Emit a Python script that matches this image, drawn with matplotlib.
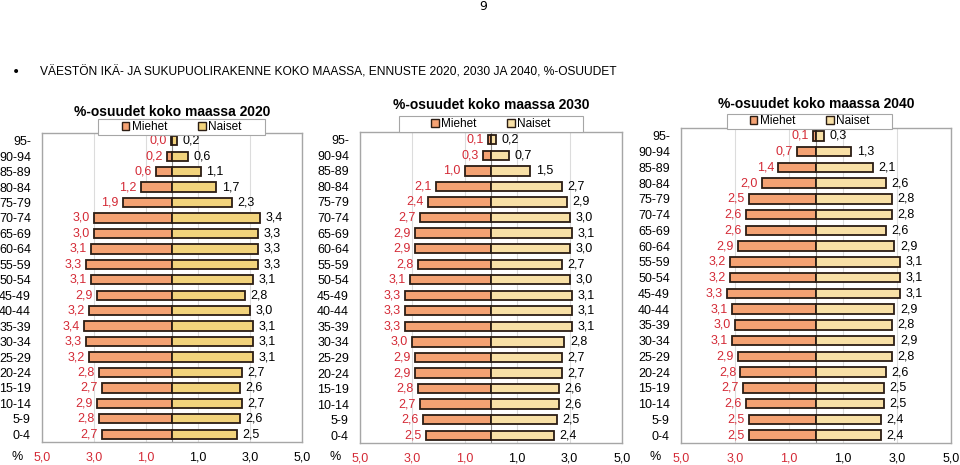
import matplotlib
matplotlib.use("Agg")
import matplotlib.pyplot as plt
from matplotlib.patches import Patch, Rectangle

ages = ["0-4", "5-9", "10-14", "15-19", "20-24", "25-29", "30-34", "35-39",
        "40-44", "45-49", "50-54", "55-59", "60-64", "65-69", "70-74",
        "75-79", "80-84", "85-89", "90-94", "95-"]

men_2020 = [2.7, 2.8, 2.9, 2.7, 2.8, 3.2, 3.3, 3.4, 3.2, 2.9, 3.1, 3.3, 3.1,
            3.0, 3.0, 1.9, 1.2, 0.6, 0.2, 0.04]
women_2020 = [2.5, 2.6, 2.7, 2.6, 2.7, 3.1, 3.1, 3.1, 3.0, 2.8, 3.1, 3.3, 3.3,
              3.3, 3.4, 2.3, 1.7, 1.1, 0.6, 0.2]
men_2030 = [2.5, 2.6, 2.7, 2.8, 2.9, 2.9, 3.0, 3.3, 3.3, 3.3, 3.1, 2.8, 2.9,
            2.9, 2.7, 2.4, 2.1, 1.0, 0.3, 0.1]
women_2030 = [2.4, 2.5, 2.6, 2.6, 2.7, 2.7, 2.8, 3.1, 3.1, 3.1, 3.0, 2.7, 3.0,
              3.1, 3.0, 2.9, 2.7, 1.5, 0.7, 0.2]
men_2040 = [2.5, 2.5, 2.6, 2.7, 2.8, 2.9, 3.1, 3.0, 3.1, 3.3, 3.2, 3.2, 2.9,
            2.6, 2.6, 2.5, 2.0, 1.4, 0.7, 0.1]
women_2040 = [2.4, 2.4, 2.5, 2.5, 2.6, 2.8, 2.9, 2.8, 2.9, 3.1, 3.1, 3.1, 2.9,
              2.6, 2.8, 2.8, 2.6, 2.1, 1.3, 0.3]

titles = ["%-osuudet koko maassa 2020", "%-osuudet koko maassa 2030",
          "%-osuudet koko maassa 2040"]
legend_labels = ["Miehet", "Naiset"]
xtick_values = [-5, -3, -1, 1, 3, 5]
xtick_labels = ["5,0", "3,0", "1,0", "1,0", "3,0", "5,0"]
header = "VÄESTÖN IKÄ- JA SUKUPUOLIRAKENNE KOKO MAASSA, ENNUSTE 2020, 2030 JA 2040, %-OSUUDET"
page_number = "9"

W, H = 960, 465
MEN_C = "#F4A273"
WOMEN_C = ["#F2D37C", "#F8E0A6", "#F8E0A6"]
RED = "#D42A36"
EDGE = "#2B1D14"
FRAME = "#A6A6A6"
GRID = "#DCDCDC"
FONT = "Liberation Sans"
FS = 9

plt.rcParams["font.family"] = [FONT, "DejaVu Sans"]

fig = plt.figure(figsize=(W / 100, H / 100), dpi=100)

def px_rect(l, t, r, b):
    return [l / W, 1 - b / H, (r - l) / W, (b - t) / H]

boxes = [(42, 133, 302, 442), (360, 132, 622, 443), (681, 128, 951, 443)]
title_y = [112, 105, 104]
legend_boxes = [(98, 119, 265, 135), (399, 116, 583, 132), (727, 114, 892, 129)]
pct_x = [12, 329, 649]

data = [(men_2020, women_2020), (men_2030, women_2030), (men_2040, women_2040)]
y = list(range(len(ages)))

for i, (box, (men, women)) in enumerate(zip(boxes, data)):
    ax = fig.add_axes(px_rect(*box))
    neg = [-m for m in men]
    bm = ax.barh(y, neg, height=0.6, color=MEN_C, edgecolor=EDGE, linewidth=1.3,
                 zorder=3, label=legend_labels[0])
    bw = ax.barh(y, women, height=0.6, color=WOMEN_C[i], edgecolor=EDGE,
                 linewidth=1.3, zorder=3, label=legend_labels[1])
    ax.bar_label(bm, labels=[f"{m:.1f}".replace(".", ",") for m in men],
                 padding=3, color=RED, fontsize=FS)
    ax.bar_label(bw, labels=[f"{w:.1f}".replace(".", ",") for w in women],
                 padding=4, color="black", fontsize=FS)
    ax.set_xlim(-5, 5)
    ax.set_ylim(-0.5, len(ages) - 0.5)
    ax.set_yticks(y)
    ax.set_yticklabels(ages, fontsize=FS)
    ax.set_xticks(xtick_values)
    ax.set_xticklabels(xtick_labels, fontsize=FS)
    for lbl, v in zip(ax.get_xticklabels(), xtick_values):
        lbl.set_color(RED if v < 0 else "black")
    ax.tick_params(axis="both", length=0)
    ax.tick_params(axis="y", pad=8)
    ax.tick_params(axis="x", pad=7)
    ax.grid(axis="x", color=GRID, linewidth=0.8, zorder=0)
    ax.axvline(0, color="#8C8C8C", linewidth=0.8, zorder=1)
    for s in ax.spines.values():
        s.set_color(FRAME)
        s.set_linewidth(1.0)
    cx = (box[0] + box[2]) / 2
    fig.text(cx / W, 1 - title_y[i] / H, titles[i], ha="center", va="center",
             fontsize=10, fontweight="bold")
    fig.text(pct_x[i] / W, 1 - 457 / H, "%", ha="left", va="center", fontsize=FS)
    lb = legend_boxes[i]
    fig.patches.append(Rectangle((lb[0] / W, 1 - lb[3] / H), (lb[2] - lb[0]) / W,
                                 (lb[3] - lb[1]) / H, transform=fig.transFigure,
                                 facecolor="white", edgecolor=FRAME, linewidth=0.8,
                                 zorder=5))
    lcx = (lb[0] + lb[2]) / 2
    lcy = (lb[1] + lb[3]) / 2
    leg = fig.legend(handles=[Patch(facecolor=MEN_C, edgecolor=EDGE, linewidth=1.0),
                              Patch(facecolor=WOMEN_C[i], edgecolor=EDGE, linewidth=1.0)],
                     labels=legend_labels, loc="center",
                     bbox_to_anchor=(lcx / W, 1 - lcy / H), bbox_transform=fig.transFigure,
                     ncol=2, fontsize=8.5, frameon=False,
                     handlelength=0.65, handleheight=0.65, handletextpad=0.2,
                     borderpad=0.0, borderaxespad=0.0, columnspacing=2.6)
    leg.set_zorder(6)

fig.text(483 / W, 1 - 7 / H, page_number, ha="center", va="center",
         fontsize=9, family="DejaVu Sans")
fig.text(12 / W, 1 - 72 / H, "•", ha="left", va="center", fontsize=10,
         family="DejaVu Sans")
ht = fig.text(40 / W, 1 - 72 / H, header, ha="left", va="center", fontsize=8,
              family=FONT)
fig.canvas.draw()
bb = ht.get_window_extent()
ht.set_fontsize(8 * 575 / bb.width)

fig.savefig("out.png", dpi=100)
